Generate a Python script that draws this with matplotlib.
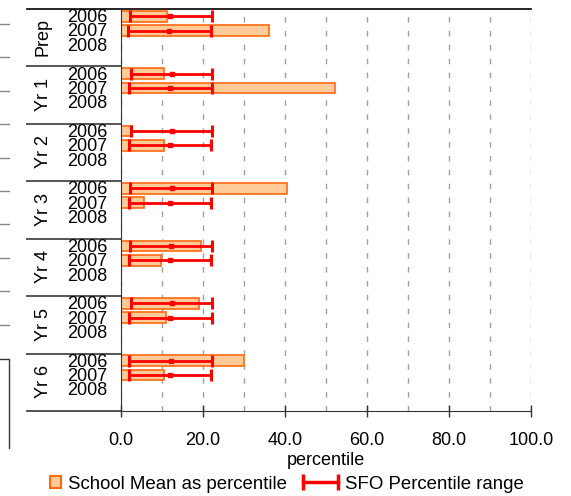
import matplotlib
matplotlib.use("Agg")
import numpy as np
import matplotlib.pyplot as plt
from matplotlib.lines import Line2D
from matplotlib.patches import Patch, Rectangle
from matplotlib.legend_handler import HandlerPatch, HandlerLine2D

plt.rcParams['font.family'] = ['Liberation Sans', 'DejaVu Sans']
plt.rcParams['font.size'] = 13

# === DATA ===
groups = ['Prep', 'Yr 1', 'Yr 2', 'Yr 3', 'Yr 4', 'Yr 5', 'Yr 6']
years = ['2006', '2007', '2008']

school_2006 = [11.1, 10.6, 2.7, 40.6, 19.4, 19.0, 29.9]
school_2007 = [36.2, 52.3, 10.5, 5.7, 9.8, 10.9, 10.5]

sfo_low_2006 = [2.2, 2.4, 2.4, 2.3, 2.2, 2.4, 1.95]
sfo_mid_2006 = [12.0, 12.4, 12.4, 12.4, 12.1, 12.4, 12.1]
sfo_high_2006 = [22.2, 22.3, 22.1, 22.3, 22.3, 22.3, 22.1]

sfo_low_2007 = [1.8, 1.95, 1.9, 1.95, 1.95, 1.9, 1.95]
sfo_mid_2007 = [11.8, 12.0, 12.0, 12.0, 12.0, 12.0, 12.0]
sfo_high_2007 = [21.9, 22.1, 22.0, 22.0, 22.0, 22.1, 22.0]

xticks = [0, 20, 40, 60, 80, 100]

bar_face = '#FFCC99'
bar_edge = '#FF6A10'
err_col = '#FF0000'
line_col = '#333333'

# each group gets 4 slots: 3 years + one empty
slots = 4
n = len(groups)

fig = plt.figure(figsize=(5.71, 4.96), dpi=100)
ax = fig.add_axes([121 / 571, 85 / 496, 410 / 571, 402 / 496])

y06 = np.arange(n) * slots + 0.5
y07 = np.arange(n) * slots + 1.5

ax.barh(y06, school_2006, height=0.75, color=bar_face, edgecolor=bar_edge, lw=1.2, zorder=2)
ax.barh(y07, school_2007, height=0.75, color=bar_face, edgecolor=bar_edge, lw=1.2, zorder=2)

for yy, lo, mid, hi in [(y06, sfo_low_2006, sfo_mid_2006, sfo_high_2006),
                        (y07, sfo_low_2007, sfo_mid_2007, sfo_high_2007)]:
    lo = np.array(lo); mid = np.array(mid); hi = np.array(hi)
    ax.errorbar(mid, yy, xerr=[mid - lo, hi - mid], fmt='s', ms=3.3, color=err_col,
                ecolor=err_col, elinewidth=2, capsize=4, capthick=2.2, zorder=3)

ax.set_xlim(0, 100)
ax.set_ylim(n * slots, 0)
ax.set_yticks([])
ax.set_xticks(xticks)
ax.set_xticklabels([f"{v:.1f}" for v in xticks])
ax.set_xticks(np.arange(10, 100, 20), minor=True)
ax.tick_params(axis='x', which='major', direction='inout', length=9, width=1, pad=10.5, color=line_col)
ax.tick_params(axis='x', which='minor', length=0)
ax.grid(axis='x', which='both', ls=(0, (4, 6)), color='#a0a0a0', lw=1)
ax.set_axisbelow(True)
ax.set_xlabel('percentile', labelpad=2)

for s in ['top', 'right']:
    ax.spines[s].set_visible(False)
ax.spines['left'].set_color(line_col)
ax.spines['bottom'].set_color(line_col)

# row / group table on the left
tr = ax.get_yaxis_transform()
left = -94 / 410
ax.plot([left, 1], [0, 0], color='black', lw=1.2, transform=tr, clip_on=False)
ax.plot([left, 0], [n * slots, n * slots], color=line_col, lw=1.2, transform=tr, clip_on=False)
for g in range(1, n):
    ax.plot([left, 0], [g * slots, g * slots], color='#555555', lw=1.4, transform=tr, clip_on=False)

for g, name in enumerate(groups):
    ax.text(-78 / 410, g * slots + 1.95, name, rotation=90, ha='center', va='center',
            transform=tr)
    for i, yr in enumerate(years):
        ax.text(-14 / 410, g * slots + i + 0.6, yr, ha='right', va='center', transform=tr)

# cropped bits of a neighbouring chart on the far left
for k in range(10):
    yp = 1 - (24 + 33.4 * k) / 496
    fig.add_artist(Line2D([0, 9 / 571], [yp, yp], color='#888888', lw=1))
fig.add_artist(Line2D([0, 9 / 571, 9 / 571], [1 - 359 / 496, 1 - 359 / 496, 1 - 448 / 496],
                      color='#333333', lw=1))


class SquareHandler(HandlerPatch):
    def create_artists(self, legend, orig_handle, xdescent, ydescent, width, height, fontsize, trans):
        side = 8.0  # points, ~11 px
        p = Rectangle((width - xdescent - side, -ydescent + (height - side) / 2), side, side,
                      facecolor=bar_face, edgecolor=bar_edge, lw=1.5, transform=trans)
        return [p]


h1 = Patch(facecolor=bar_face, edgecolor=bar_edge)
h2 = Line2D([], [], color=err_col, lw=2.5, marker='|', ms=11, mew=2.5)
fig.legend([h1, h2], ['School Mean as percentile', 'SFO Percentile range'],
           loc='center left', bbox_to_anchor=(9 / 571, 1 - 484 / 496), ncol=2, frameon=False,
           numpoints=2, handlelength=1.88, handletextpad=0.38, columnspacing=0.85,
           handler_map={Patch: SquareHandler(), Line2D: HandlerLine2D(marker_pad=0)},
           fontsize=13.4)

fig.savefig('out.png', dpi=100)
